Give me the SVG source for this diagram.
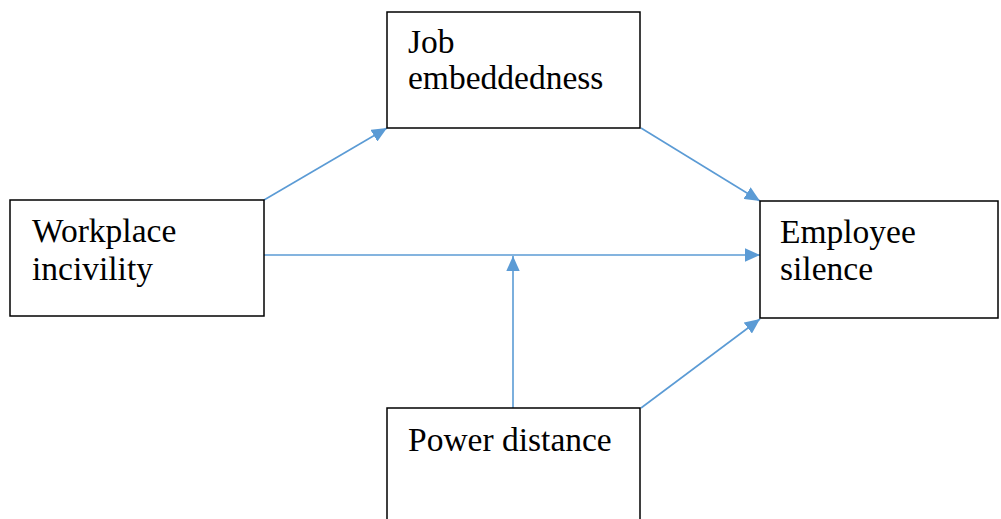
<svg xmlns="http://www.w3.org/2000/svg" width="1001" height="519" viewBox="0 0 1001 519">
<style>
.box{fill:#fff;stroke:#000;stroke-width:1.5}
.lbl{font-family:"Liberation Serif","Times New Roman",serif;font-size:33.5px;fill:#000}
.conn{stroke:#5B9BD5;stroke-width:1.6;fill:none;marker-end:url(#ah)}
</style>
<defs>
<marker id="ah" viewBox="0 0 10 10" refX="10" refY="5" markerWidth="9.5" markerHeight="8.5" preserveAspectRatio="none" markerUnits="strokeWidth" orient="auto">
<path d="M0,0 L10,5 L0,10 z" fill="#5B9BD5"/>
</marker>
</defs>
<rect width="1001" height="519" fill="#fff"/>
<g id="connectors">
<line class="conn" x1="264" y1="200" x2="387" y2="128"/>
<line class="conn" x1="641" y1="128" x2="760" y2="201"/>
<line class="conn" x1="264" y1="255" x2="760" y2="255"/>
<line class="conn" x1="513" y1="408" x2="513" y2="256"/>
<line class="conn" x1="641" y1="408" x2="760" y2="319"/>
</g>
<g id="job">
<rect class="box" x="387" y="12" width="253" height="116"/>
<text class="lbl" x="408" y="53">Job</text>
<text class="lbl" x="408" y="89">embeddedness</text>
</g>
<g id="workplace">
<rect class="box" x="10" y="200" width="254" height="116"/>
<text class="lbl" x="32" y="242">Workplace</text>
<text class="lbl" x="32" y="280">incivility</text>
</g>
<g id="employee">
<rect class="box" x="760" y="201" width="238" height="117"/>
<text class="lbl" x="780" y="243">Employee</text>
<text class="lbl" x="780" y="280">silence</text>
</g>
<g id="power">
<rect class="box" x="387" y="408" width="253" height="120"/>
<text class="lbl" x="408" y="451">Power distance</text>
</g>
</svg>
